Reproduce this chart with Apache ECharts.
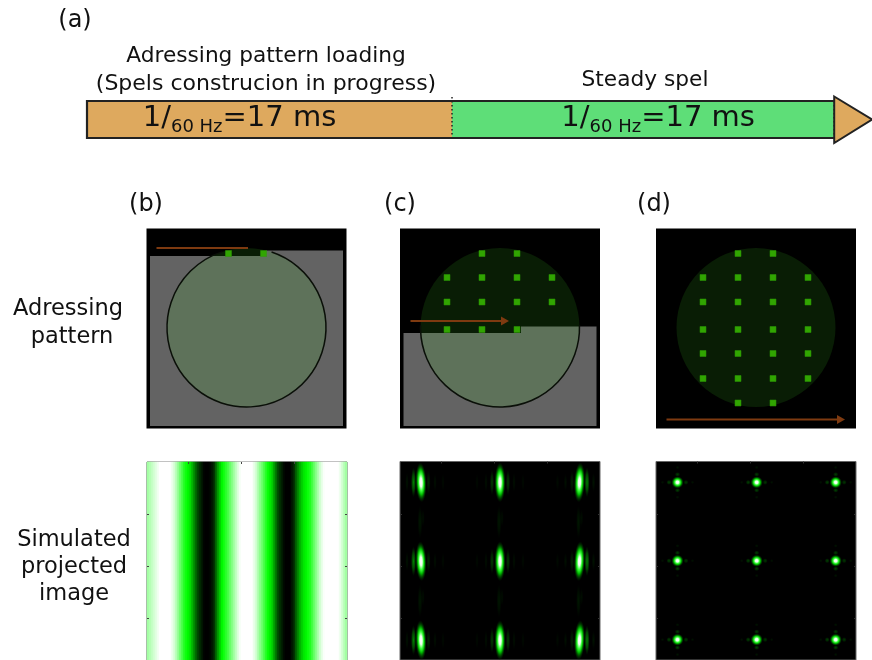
<!DOCTYPE html>
<html><head><meta charset="utf-8">
<style>html,body{margin:0;padding:0;background:#fff}#c{width:872px;height:660px}</style>
<script src="https://cdn.jsdelivr.net/npm/echarts@6/dist/echarts.min.js"></script>
</head><body><div id="c"></div>
<script>
// ---- data ----
const phaseNames = ['Adressing pattern loading', 'Steady spel'];
const phaseSpans = [17, 17.8];
const headSpan = 1.76;
const phaseLabel = '{a|1/}{b|60 Hz}{a|=17 ms}';
const spelCols = [47, 82, 117, 152];
const spelRows = [25, 49, 73.5, 101, 125, 150, 174.5];
const spelsB = [[1,0],[2,0]];
const spelsC = [[1,0],[2,0],[0,1],[1,1],[2,1],[3,1],[0,2],[1,2],[2,2],[3,2],[0,3],[1,3],[2,3]];
const spelsD = [[1,0],[2,0],[0,1],[1,1],[2,1],[3,1],[0,2],[1,2],[2,2],[3,2],[0,3],[1,3],[2,3],[3,3],
                [0,4],[1,4],[2,4],[3,4],[0,5],[1,5],[2,5],[3,5],[1,6],[2,6]];
const apertureCentre = [100, 99];
const apertureRadius = 79.5;
const maskB = {left:3.5, right:196.5, bottom:197.5, stepX:119.5, leftTop:27.5, rightTop:22};
const maskC = {left:3.5, right:196.5, bottom:197.5, stepX:121, leftTop:104.5, rightTop:98};
const sweepB = [10, 101.5, 19.5, false];
const sweepC = [10.5, 109, 92.5, true];
const sweepD = [10.5, 189, 191, true];
const stripeProfile = [.82,.85,.88,.91,.94,.97,1,1,1,1,1,1,.97,.93,.87,.8,.72,.65,.58,.53,.49,.45,.37,.29,.21,.14,.09,.05,.01,0,
 0,.01,.04,.08,.19,.3,.39,.48,.53,.58,.63,.69,.75,.81,.87,.93,.98,1,1,1,1,1,1,.96,.92,.85,.78,.72,.65,.58,.52,.47,.42,.33,.24,.15,.1,.06,.02,0,
 0,0,.04,.08,.18,.26,.34,.4,.45,.48,.52,.55,.62,.69,.76,.83,.9,.95,.99,1,1,1,1,1,1,1,.97,.92,.87,.82];
const imageTicksX = [41, 94, 147];
const imageTicksY = [53, 105.5, 158];
const spotColsC = [21, 100, 179.5];
const spotRowsC = [21, 100.5, 180];
const spotColsD = [21.5, 100.7, 179.7];
const spotRowsD = [21, 100, 179.5];
// dx, dy, half width, half height, strength
const lobesCbyCol = [
 [[-7.5,0,2.6,15,.5],[7.5,0,2.2,12,.14],[-14,0,1.8,10,.07],[14,0,1.8,9,.06],[22,0,1.8,9,.04]],
 [[-8,0,2.2,13,.24],[8,0,2.2,13,.22],[-14,0,1.8,10,.06],[14,0,1.8,10,.06],[23,0,1.8,9,.04],[-23,0,1.8,9,.04]],
 [[7.5,0,2.6,15,.5],[-7.5,0,2.2,12,.14],[14,0,1.8,10,.07],[-14,0,1.8,9,.06],[-22,0,1.8,9,.04]]
];
const ghostsC = [[-1,40,2.5,17,.09],[2,36,1.8,9,.05]];
const lobesD = [[-8.5,0,2.6,2.6,.26],[8.5,0,2.6,2.6,.22],[0,-8,2.8,2.4,.24],[0,8,2.8,2.4,.26],[-15,0,1.8,1.8,.07],[15,0,1.8,1.8,.07],[0,-15,2,1.8,.08],[0,15,2,1.8,.08]];
const textBlocks = [
 ['(a)',75,21,24],['Adressing pattern loading',266,56,21.7],['(Spels construcion in progress)',266,84,22],['Steady spel',645,80,21.7],
 ['(b)',146,205,24],['(c)',400,205,24],['(d)',654,205,24],
 ['Adressing',68,309,22.5],['pattern',72,337,22.5],['Simulated',74,540,22.5],['projected',74,567,22.5],['image',74,594,22.5]
];
// ---- styling ----
const FONT = '"DejaVu Sans"';
const ORANGE = '#dea95e', GREEN = '#5ede78', LINE = '#222';
const SPEL = '#3cc800', BROWN = '#7e3a10';
const grey = '#636363';

const grids = [], xAxes = [], yAxes = [], series = [];
const hiddenVal = (g, o) => Object.assign({type:'value', gridIndex:g, min:0, max:200, show:false}, o||{});
function addGrid(left, top, width, height, bg, border, bw){
  grids.push({left, top, width, height, show:true, backgroundColor:bg, borderColor:border, borderWidth:bw, containLabel:false});
  return grids.length - 1;
}
// timeline
const gT = addGrid(87, 101, 785, 37, 'transparent', 'transparent', 0);
xAxes.push({type:'value', gridIndex:gT, min:0, max:phaseSpans[0]+phaseSpans[1]+headSpan, show:false});
yAxes.push({type:'category', gridIndex:gT, data:['t'], show:false});
const richStyle = {a:{fontFamily:FONT, fontSize:29, color:'#111', lineHeight:32, verticalAlign:'middle'},
                   b:{fontFamily:FONT, fontSize:18, color:'#111', lineHeight:20, padding:[17,0,0,0], verticalAlign:'middle'}};
[ORANGE, GREEN].forEach((col, i) => series.push({
  name:phaseNames[i], type:'bar', stack:'t', xAxisIndex:0, yAxisIndex:0, barWidth:'100%', silent:true,
  data:[phaseSpans[i]], itemStyle:{color:col},
  label:{show:true, position:'inside', formatter:phaseLabel, rich:richStyle, offset:[i?15:-30, -1]}
}));
series.push({
  type:'custom', xAxisIndex:0, yAxisIndex:0, silent:true, z:5, data:[[0,0]],
  renderItem(p, api){
    const a = phaseSpans[0], b = a + phaseSpans[1], c = b + headSpan;
    const h = api.size([0,1])[1], yc = api.coord([0,0])[1], top = yc - h/2, bot = yc + h/2;
    const X = v => api.coord([v,0])[0];
    const ln = (x1,y1,x2,y2,dash,w) => ({type:'line', shape:{x1,y1,x2,y2}, style:{stroke:LINE, lineWidth:w||2.2, lineDash:dash||null}});
    return {type:'group', children:[
      {type:'polygon', shape:{points:[[X(b),top-4.5],[X(c),yc],[X(b),bot+5]]}, style:{fill:ORANGE, stroke:LINE, lineWidth:2}},
      ln(X(0),top,X(b),top), ln(X(0),bot,X(b),bot), ln(X(0),top-1,X(0),bot+1),
      ln(X(a),top-4,X(a),bot,[1.5,2.5],1.5), ln(X(b),top,X(b),bot,[1.5,2.5],1.5)
    ]};
  }
});
// mask panels
function maskPanel(left, mask, spels, sweep, ringAngles){
  const g = addGrid(left, 228.5, 200, 200, '#000', '#555', 0);
  const xi = xAxes.length, yi = yAxes.length;
  xAxes.push(hiddenVal(g)); yAxes.push(hiddenVal(g, {inverse:true}));
  const base = {xAxisIndex:xi, yAxisIndex:yi, silent:true, animation:false};
  if (mask) series.push(Object.assign({}, base, {type:'custom', z:2, data:[[mask.left, mask.leftTop]], renderItem(p, api){
    const P = (x,y) => api.coord([x,y]);
    return {type:'polygon', shape:{points:[P(mask.left,mask.leftTop),P(mask.stepX,mask.leftTop),P(mask.stepX,mask.rightTop),
      P(mask.right,mask.rightTop),P(mask.right,mask.bottom),P(mask.left,mask.bottom)]}, style:{fill:grey}};
  }}));
  series.push(Object.assign({}, base, {type:'custom', z:3, data:[apertureCentre], renderItem(p, api){
    const c = api.coord(apertureCentre), r = api.size([apertureRadius,0])[0];
    const kids = [{type:'circle', shape:{cx:c[0], cy:c[1], r}, style:{fill:'rgba(67,207,33,0.14)'}}];
    if (ringAngles) kids.push({type:'arc', shape:{cx:c[0], cy:c[1], r, startAngle:ringAngles[0], endAngle:ringAngles[1], clockwise:true},
      style:{fill:null, stroke:'#0a0f08', lineWidth:1.5}});
    return {type:'group', children:kids};
  }}));
  series.push(Object.assign({}, base, {type:'scatter', z:4, symbol:'rect', symbolSize:6,
    data:spels.map(s => [spelCols[s[0]], spelRows[s[1]]]),
    itemStyle:{color:SPEL, borderColor:'#2a9206', borderWidth:.7}}));
  series.push(Object.assign({}, base, {type:'custom', z:5, data:[sweep], renderItem(p, api){
    const a = api.coord([sweep[0],sweep[2]]), b = api.coord([sweep[1],sweep[2]]);
    const kids = [{type:'line', shape:{x1:a[0],y1:a[1],x2:b[0]-(sweep[3]?5:0),y2:b[1]}, style:{stroke:BROWN, lineWidth:1.9}}];
    if (sweep[3]) kids.push({type:'polygon', shape:{points:[[b[0]-8,b[1]-4.5],[b[0],b[1]],[b[0]-8,b[1]+4.5]]}, style:{fill:BROWN}});
    return {type:'group', children:kids};
  }}));
}
maskPanel(146.5, maskB, spelsB, sweepB, [-1.25, 4.4]);
maskPanel(400, maskC, spelsC, sweepC, [-0.03, 3.17]);
maskPanel(656, null, spelsD, sweepD, null);

// image panels: shared tick axes
function tickAxes(g, colour){
  const tick = vals => ({show:true, inside:true, length:2, customValues:vals, lineStyle:{color:colour, width:1}});
  const xi = xAxes.length, yi = yAxes.length;
  const common = {type:'value', gridIndex:g, min:0, max:200, z:6, axisLine:{show:false}, axisLabel:{show:false}, splitLine:{show:false}};
  xAxes.push(Object.assign({}, common, {position:'top', axisTick:tick(imageTicksX)}));
  yAxes.push(Object.assign({}, common, {position:'left', inverse:true, axisTick:tick(imageTicksY)}));
  yAxes.push(Object.assign({}, common, {position:'right', inverse:true, axisTick:tick(imageTicksY)}));
  return {xi, yi};
}
// stripes (b)
const gS = addGrid(147, 462, 200, 200, '#000', '#555', 1);
tickAxes(gS, '#444');
const sx = xAxes.length, sy = yAxes.length;
xAxes.push({type:'category', gridIndex:gS, show:false, data:stripeProfile.map((_, i) => i)});
yAxes.push({type:'category', gridIndex:gS, show:false, data:['y']});
const heatIndex = series.length;
series.push({type:'heatmap', xAxisIndex:sx, yAxisIndex:sy, silent:true, z:2, progressive:0,
  data:stripeProfile.map((v, i) => [i, 0, v])});

// spots
function spotSeries(ax, list, z){
  series.push({type:'custom', xAxisIndex:ax.xi, yAxisIndex:ax.yi, silent:true, z:z||3, clip:true,
    data:list, renderItem(p, api){
      const s = list[p.dataIndex], c = api.coord([s[0], s[1]]);
      const strength = s[4];
      let stops;
      if (strength >= 1) stops = [
        {offset:0,color:'#fff'},{offset:.22,color:'#eaffea'},{offset:.42,color:'#40ff40'},{offset:.62,color:'#00b800'},
        {offset:.82,color:'rgba(0,90,0,.6)'},{offset:1,color:'rgba(0,50,0,0)'}];
      else stops = [{offset:0,color:`rgba(0,255,0,${strength})`},{offset:.55,color:`rgba(0,220,0,${strength*.6})`},{offset:1,color:'rgba(0,120,0,0)'}];
      return {type:'circle', x:c[0], y:c[1], scaleX:s[2], scaleY:s[3], rotation:s[5]||0, shape:{cx:0, cy:0, r:1},
        style:{fill:{type:'radial', x:.5, y:.5, r:.5, colorStops:stops}}};
    }});
}
// panel (c)
const gC = addGrid(400, 461.5, 200, 200, '#000', '#666', 1);
const axC = tickAxes(gC, '#333');
const listC = [];
spotColsC.forEach((x, ci) => spotRowsC.forEach(y => {
  listC.push([x, y, 5.5, 20, 1, [.035, 0, -.045][ci]]);
  lobesCbyCol[ci].forEach(l => listC.push([x+l[0], y+l[1], l[2], l[3], l[4]]));
  if (y < 150) ghostsC.forEach(l => listC.push([x+l[0], y+l[1], l[2], l[3], l[4]]));
}));
spotSeries(axC, listC);
// panel (d)
const gD = addGrid(656, 461.5, 200, 200, '#000', '#666', 1);
const axD = tickAxes(gD, '#333');
const listD = [];
spotColsD.forEach(x => spotRowsD.forEach(y => {
  listD.push([x, y, 6.2, 6.2, 1]);
  lobesD.forEach(l => listD.push([x+l[0], y+l[1], l[2], l[3], l[4]]));
}));
spotSeries(axD, listD);

const chart = echarts.init(document.getElementById('c'), null, {renderer:'canvas', width:872, height:660});
chart.setOption({
  animation:false, backgroundColor:'#fff',
  grid:grids, xAxis:xAxes, yAxis:yAxes, series,
  visualMap:[{type:'continuous', show:false, min:0, max:1, seriesIndex:heatIndex, dimension:2, inRange:{color:['#000000','#00ff00','#ffffff']}}],
  graphic:textBlocks.map(t => ({type:'text', x:t[1], y:t[2], z:50, style:{text:t[0], font:`${t[3]}px ${FONT}`, fill:'#111', textAlign:'center', textVerticalAlign:'middle'}}))
});
</script></body></html>
